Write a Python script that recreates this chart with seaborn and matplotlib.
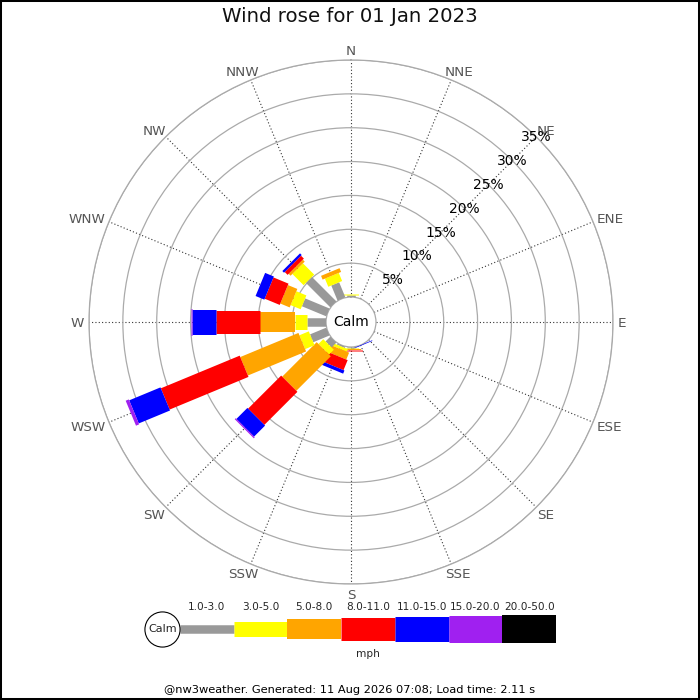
import numpy as np
import pandas as pd
import matplotlib
matplotlib.use('Agg')
import matplotlib.pyplot as plt
from matplotlib.patches import Rectangle
import seaborn as sns

# Wind rose data: percentage of time per direction and speed class
directions = ['N', 'NNE', 'NE', 'ENE', 'E', 'ESE', 'SE', 'SSE',
              'S', 'SSW', 'SW', 'WSW', 'W', 'WNW', 'NW', 'NNW']
speed_bins = ['1.0-3.0', '3.0-5.0', '5.0-8.0', '8.0-11.0',
              '11.0-15.0', '15.0-20.0', '20.0-50.0']

#            N    NNE NE  ENE E   ESE SE  SSE  S     SSW  SW   WSW   W     WNW  NW    NNW
pct_1_3   = [0.3,  0, 0, 0, 0, 0, 0, 0.0, 0.2,  0.2, 1.0, 2.6,  2.84, 3.9, 5.1,  2.4]
pct_3_5   = [0.15, 0, 0, 0, 0, 0, 0, 0.0, 0.1,  0.4, 1.0, 1.5,  1.72, 1.6, 2.35, 1.3]
pct_5_8   = [0,    0, 0, 0, 0, 0, 0, 0.0, 0.1,  1.1, 7.2, 9.3,  5.15, 1.5, 0.4,  0.6]
pct_8_11  = [0,    0, 0, 0, 0, 0, 0, 0.0, 0.25, 1.6, 6.9, 12.6, 6.5,  2.4, 0.6,  0]
pct_11_15 = [0,    0, 0, 0, 0, 0, 0, 0.1, 0,    0.5, 2.3, 5.0,  3.55, 1.4, 0.35, 0]
pct_15_20 = [0,    0, 0, 0, 0, 0, 0, 0.0, 0,    0,   0.2, 0.5,  0.15, 0,   0,    0]
pct_20_50 = [0,    0, 0, 0, 0, 0, 0, 0.0, 0,    0,   0,   0,    0,    0,   0,    0]

ring_values = [5, 10, 15, 20, 25, 30, 35]

# styling
colors = sns.color_palette(['#999999', '#ffff00', '#ffa500', '#ff0000',
                            '#0000ff', '#a020f0', '#000000'])
bar_px = [8.5, 15, 20, 23, 25, 27, 28]          # thickness of each class in pixels
bar_pt = [w * 72 / 100 for w in bar_px]

df = pd.DataFrame({'direction': directions})
for name, vals in zip(speed_bins, [pct_1_3, pct_3_5, pct_5_8, pct_8_11,
                                   pct_11_15, pct_15_20, pct_20_50]):
    df[name] = vals
df['theta'] = np.deg2rad(np.arange(len(directions)) * 22.5)
cum = df[speed_bins].cumsum(axis=1)
bottoms = cum - df[speed_bins]

sns.set_theme(style='white')
plt.rcParams['font.family'] = ['DejaVu Sans']

fig = plt.figure(figsize=(7, 7), dpi=100)
W = H = 700
cx, cy, r_out = 351, 322, 262
ax = fig.add_axes([(cx - r_out) / W, (H - cy - r_out) / H,
                   2 * r_out / W, 2 * r_out / H], projection='polar')
ax.set_theta_zero_location('N')
ax.set_theta_direction(-1)
ax.set_ylim(0, 35)
ax.set_rorigin(-3.69)

ax.set_xticks(df['theta'])
ax.set_xticklabels([])
ax.set_yticks(ring_values)
ax.set_yticklabels([])
ax.tick_params(length=0)
ax.xaxis.grid(True, color='#333333', linestyle=(0, (1, 2)), linewidth=0.8)
ax.yaxis.grid(True, color='#aaaaaa', linestyle='-', linewidth=0.9)
for name, sp in ax.spines.items():
    sp.set_color('#aaaaaa')
    sp.set_linewidth(0.9)

# stacked bars as thick radial segments
for i, row in df.iterrows():
    for k, b in enumerate(speed_bins):
        v = row[b]
        if v <= 0:
            continue
        r0 = bottoms.loc[i, b]
        r1 = cum.loc[i, b]
        ax.plot([row['theta'], row['theta']], [r0, r1], color=colors[k],
                linewidth=bar_pt[k], solid_capstyle='butt', zorder=3)

# compass labels, pushed out from the rim depending on their size
renderer = fig.canvas.get_renderer()
gap, cap_h = 5, 10
for th, lab in zip(df['theta'], df['direction']):
    t = ax.annotate(lab, xy=(th, 35), xytext=(0, 0), textcoords='offset pixels',
                    ha='center', va='baseline', color='#555555',
                    fontsize=9.7, annotation_clip=False)
    w = t.get_window_extent(renderer).width
    dx = (gap + w / 2) * np.sin(th)
    dy = (gap + cap_h / 2) * np.cos(th) - cap_h / 2
    t.xyann = (dx, dy)

# ring labels along NE
for rv in ring_values:
    ax.text(np.pi / 4, rv, f'{rv}%', ha='center', va='center',
            color='black', fontsize=10, zorder=4)

ax.text(0.5, 0.5, 'Calm', transform=ax.transAxes, ha='center', va='center',
        fontsize=10, color='black', zorder=5)

# legend strip
leg = fig.add_axes([180 / W, (H - 629 - 40) / H, 376 / W, 80 / H])
leg.set_xlim(0, len(speed_bins))
leg.set_ylim(-40, 40)
leg.axis('off')
for k, lab in enumerate(speed_bins):
    leg.plot([k, k + 1], [0, 0], color=colors[k], linewidth=bar_pt[k],
             solid_capstyle='butt')
    leg.text(k + 0.5, 22.5, lab, ha='center', va='center', fontsize=7.6)
leg.text(len(speed_bins) / 2, -25, 'mph', ha='center', va='center', fontsize=7.6)
leg.scatter([-0.33], [0], s=640, facecolor='white', edgecolor='black',
            linewidth=0.8, clip_on=False, zorder=3)
leg.text(-0.33, 0, 'Calm', ha='center', va='center', fontsize=8, zorder=4)

fig.text(0.5, 1 - 16.7 / H, 'Wind rose for 01 Jan 2023', ha='center',
         va='center', fontsize=14.2, color='#111111')
fig.text(0.5, 1 - 690 / H,
         '@nw3weather. Generated: 11 Aug 2026 07:08; Load time: 2.11 s',
         ha='center', va='center', fontsize=8.2, color='black')
fig.add_artist(Rectangle((0, 0), 1, 1, transform=fig.transFigure, fill=False,
                         edgecolor='black', linewidth=2.9))

fig.savefig('out.png', dpi=100)
